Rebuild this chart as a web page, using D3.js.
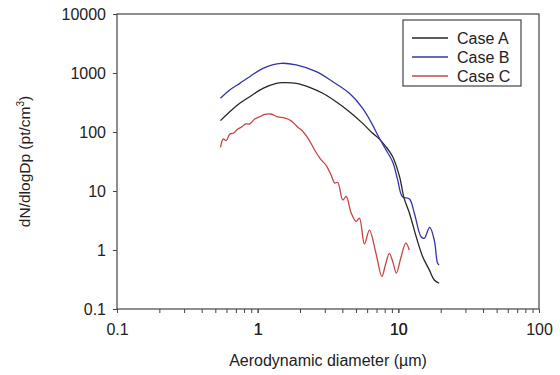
<!DOCTYPE html>
<html lang="en">
	<head>
		<meta charset="UTF-8" />
		<title>Size distribution</title>
		<script src="https://d3js.org/d3.v7.min.js"></script>
		<style>
			body { margin: 0; background: #fff; }
			text { font-family: "Liberation Sans", Arial, sans-serif; fill: #222; }
		</style>
	</head>
	<body>
		<svg id="chart" width="560" height="375"></svg>
		<script>
			// values (diameter in µm, dN/dlogDp)
			var caseA_x = [0.544, 0.633, 0.746, 0.878, 1.09, 1.36, 1.51, 1.88, 2.34, 2.90, 3.61, 4.49, 5.58, 6.57, 7.13, 8.18, 9.12, 10.2, 11.0, 12.0, 13.4, 14.9, 16.6, 18.0, 19.5];
			var caseA_y = [156, 221, 306, 396, 550, 668, 685, 668, 572, 453, 326, 221, 140, 95, 81, 56, 38, 17.5, 7.5, 4.2, 1.68, 0.77, 0.46, 0.31, 0.273];

			var caseB_x = [0.544, 0.633, 0.746, 0.878, 1.09, 1.47, 1.88, 2.61, 3.42, 4.49, 5.58, 6.57, 7.13, 8.18, 9.12, 9.89, 10.7, 12.0, 13.0, 14.5, 15.3, 16.7, 18.0, 19.0, 19.5];
			var caseB_y = [373, 515, 668, 865, 1202, 1460, 1367, 1052, 712, 453, 252, 131, 89, 49.5, 31, 15.4, 8.0, 7.3, 4.2, 1.68, 1.58, 2.41, 1.48, 0.60, 0.557];

			var caseC_x = [0.544, 0.569, 0.598, 0.633, 0.676, 0.722, 0.770, 0.822, 0.878, 0.952, 1.03, 1.12, 1.24, 1.39, 1.55, 1.74, 1.92, 2.08, 2.30, 2.54, 2.80, 3.09, 3.35, 3.52, 3.71, 4.03, 4.26, 4.62, 5.01, 5.29, 5.74, 6.23, 6.95, 7.64, 8.09, 8.63, 9.14, 9.68, 10.45, 11.3, 11.97];
			var caseC_y = [55, 76, 72, 92, 96, 112, 122, 137, 137, 166, 180, 198, 202, 180, 173, 153, 122, 104, 76, 49.5, 34.8, 26.5, 17.9, 13.7, 13.9, 7.04, 8.07, 4.24, 3.04, 3.48, 1.26, 2.18, 0.855, 0.356, 0.557, 0.879, 0.627, 0.407, 0.761, 1.31, 1.0];

			var seriesNames = ["Case A", "Case B", "Case C"];
			var seriesColors = ["#262626", "#3434a8", "#c94444"];
			var xTicks = [0.1, 1, 10, 100];
			var yTicks = [0.1, 1, 10, 100, 1000, 10000];

			(function () {
				var series = [
					{ name: seriesNames[0], color: seriesColors[0], pts: d3.zip(caseA_x, caseA_y) },
					{ name: seriesNames[1], color: seriesColors[1], pts: d3.zip(caseB_x, caseB_y) },
					{ name: seriesNames[2], color: seriesColors[2], pts: d3.zip(caseC_x, caseC_y) }
				];

				var svg = d3.select("#chart");
				var mLeft = 117, mRight = 539, mTop = 14, mBottom = 309;

				var x = d3.scaleLog().domain([0.1, 100]).range([mLeft, mRight]);
				var y = d3.scaleLog().domain([0.1, 10000]).range([mBottom, mTop]);

				// frame
				svg.append("rect")
					.attr("x", mLeft).attr("y", mTop)
					.attr("width", mRight - mLeft).attr("height", mBottom - mTop)
					.attr("fill", "none").attr("stroke", "#444").attr("stroke-width", 1.2);

				// x axis: majors labelled, minors unlabelled
				var xMinor = [];
				[0.1, 1, 10].forEach(function (d) {
					for (var k = 1; k <= 10; k++) xMinor.push(d * k);
				});
				var isMajor = function (d) {
					return xTicks.some(function (t) { return Math.abs(t - d) < 1e-9 * d; });
				};
				var xAxis = d3.axisBottom(x).tickValues(xMinor).tickSize(4)
					.tickFormat(function (d) { return isMajor(d) ? d3.format("~g")(d) : ""; });
				var gx = svg.append("g").attr("transform", "translate(0," + mBottom + ")").call(xAxis);
				gx.select(".domain").remove();
				gx.selectAll(".tick line").attr("stroke", "#444");
				gx.selectAll(".tick text").attr("y", 15).attr("font-size", 16).attr("fill", "#222");

				var yAxis = d3.axisLeft(y).tickValues(yTicks).tickSize(4)
					.tickFormat(d3.format("~g"));
				var gy = svg.append("g").attr("transform", "translate(" + mLeft + ",0)").call(yAxis);
				gy.select(".domain").remove();
				gy.selectAll(".tick line").attr("stroke", "#444");
				gy.selectAll(".tick text").attr("x", -11).attr("font-size", 16).attr("fill", "#222");

				// axis titles
				svg.append("text")
					.attr("x", (mLeft + mRight) / 2).attr("y", 366)
					.attr("text-anchor", "middle").attr("font-size", 16)
					.text("Aerodynamic diameter (\u00b5m)");

				var yt = svg.append("text")
					.attr("transform", "translate(30," + (mTop + mBottom) / 2 + ") rotate(-90)")
					.attr("text-anchor", "middle").attr("font-size", 15.5);
				yt.append("tspan").text("dN/dlogDp (pt/cm");
				yt.append("tspan").attr("dy", -6).attr("font-size", 10).text("3");
				yt.append("tspan").attr("dy", 6).text(")");

				// curves
				var line = d3.line()
					.x(function (d) { return x(d[0]); })
					.y(function (d) { return y(d[1]); })
					.curve(d3.curveCatmullRom.alpha(0.5));

				svg.selectAll("path.series")
					.data(series)
					.enter()
					.append("path")
					.attr("class", "series")
					.attr("d", function (d) { return line(d.pts); })
					.attr("fill", "none")
					.attr("stroke", function (d) { return d.color; })
					.attr("stroke-width", 1.3);

				// legend
				var lg = svg.append("g");
				lg.append("rect")
					.attr("x", 403).attr("y", 20).attr("width", 118).attr("height", 66)
					.attr("fill", "#fff").attr("stroke", "#444").attr("stroke-width", 1.2);
				var items = lg.selectAll("g.item").data(series).enter().append("g")
					.attr("transform", function (d, i) { return "translate(0," + (38 + i * 19) + ")"; });
				items.append("line")
					.attr("x1", 412).attr("x2", 448)
					.attr("stroke", function (d) { return d.color; }).attr("stroke-width", 1.3);
				items.append("text")
					.attr("x", 457).attr("dy", "0.35em").attr("font-size", 16)
					.text(function (d) { return d.name; });
			})();
		</script>
	</body>
</html>
